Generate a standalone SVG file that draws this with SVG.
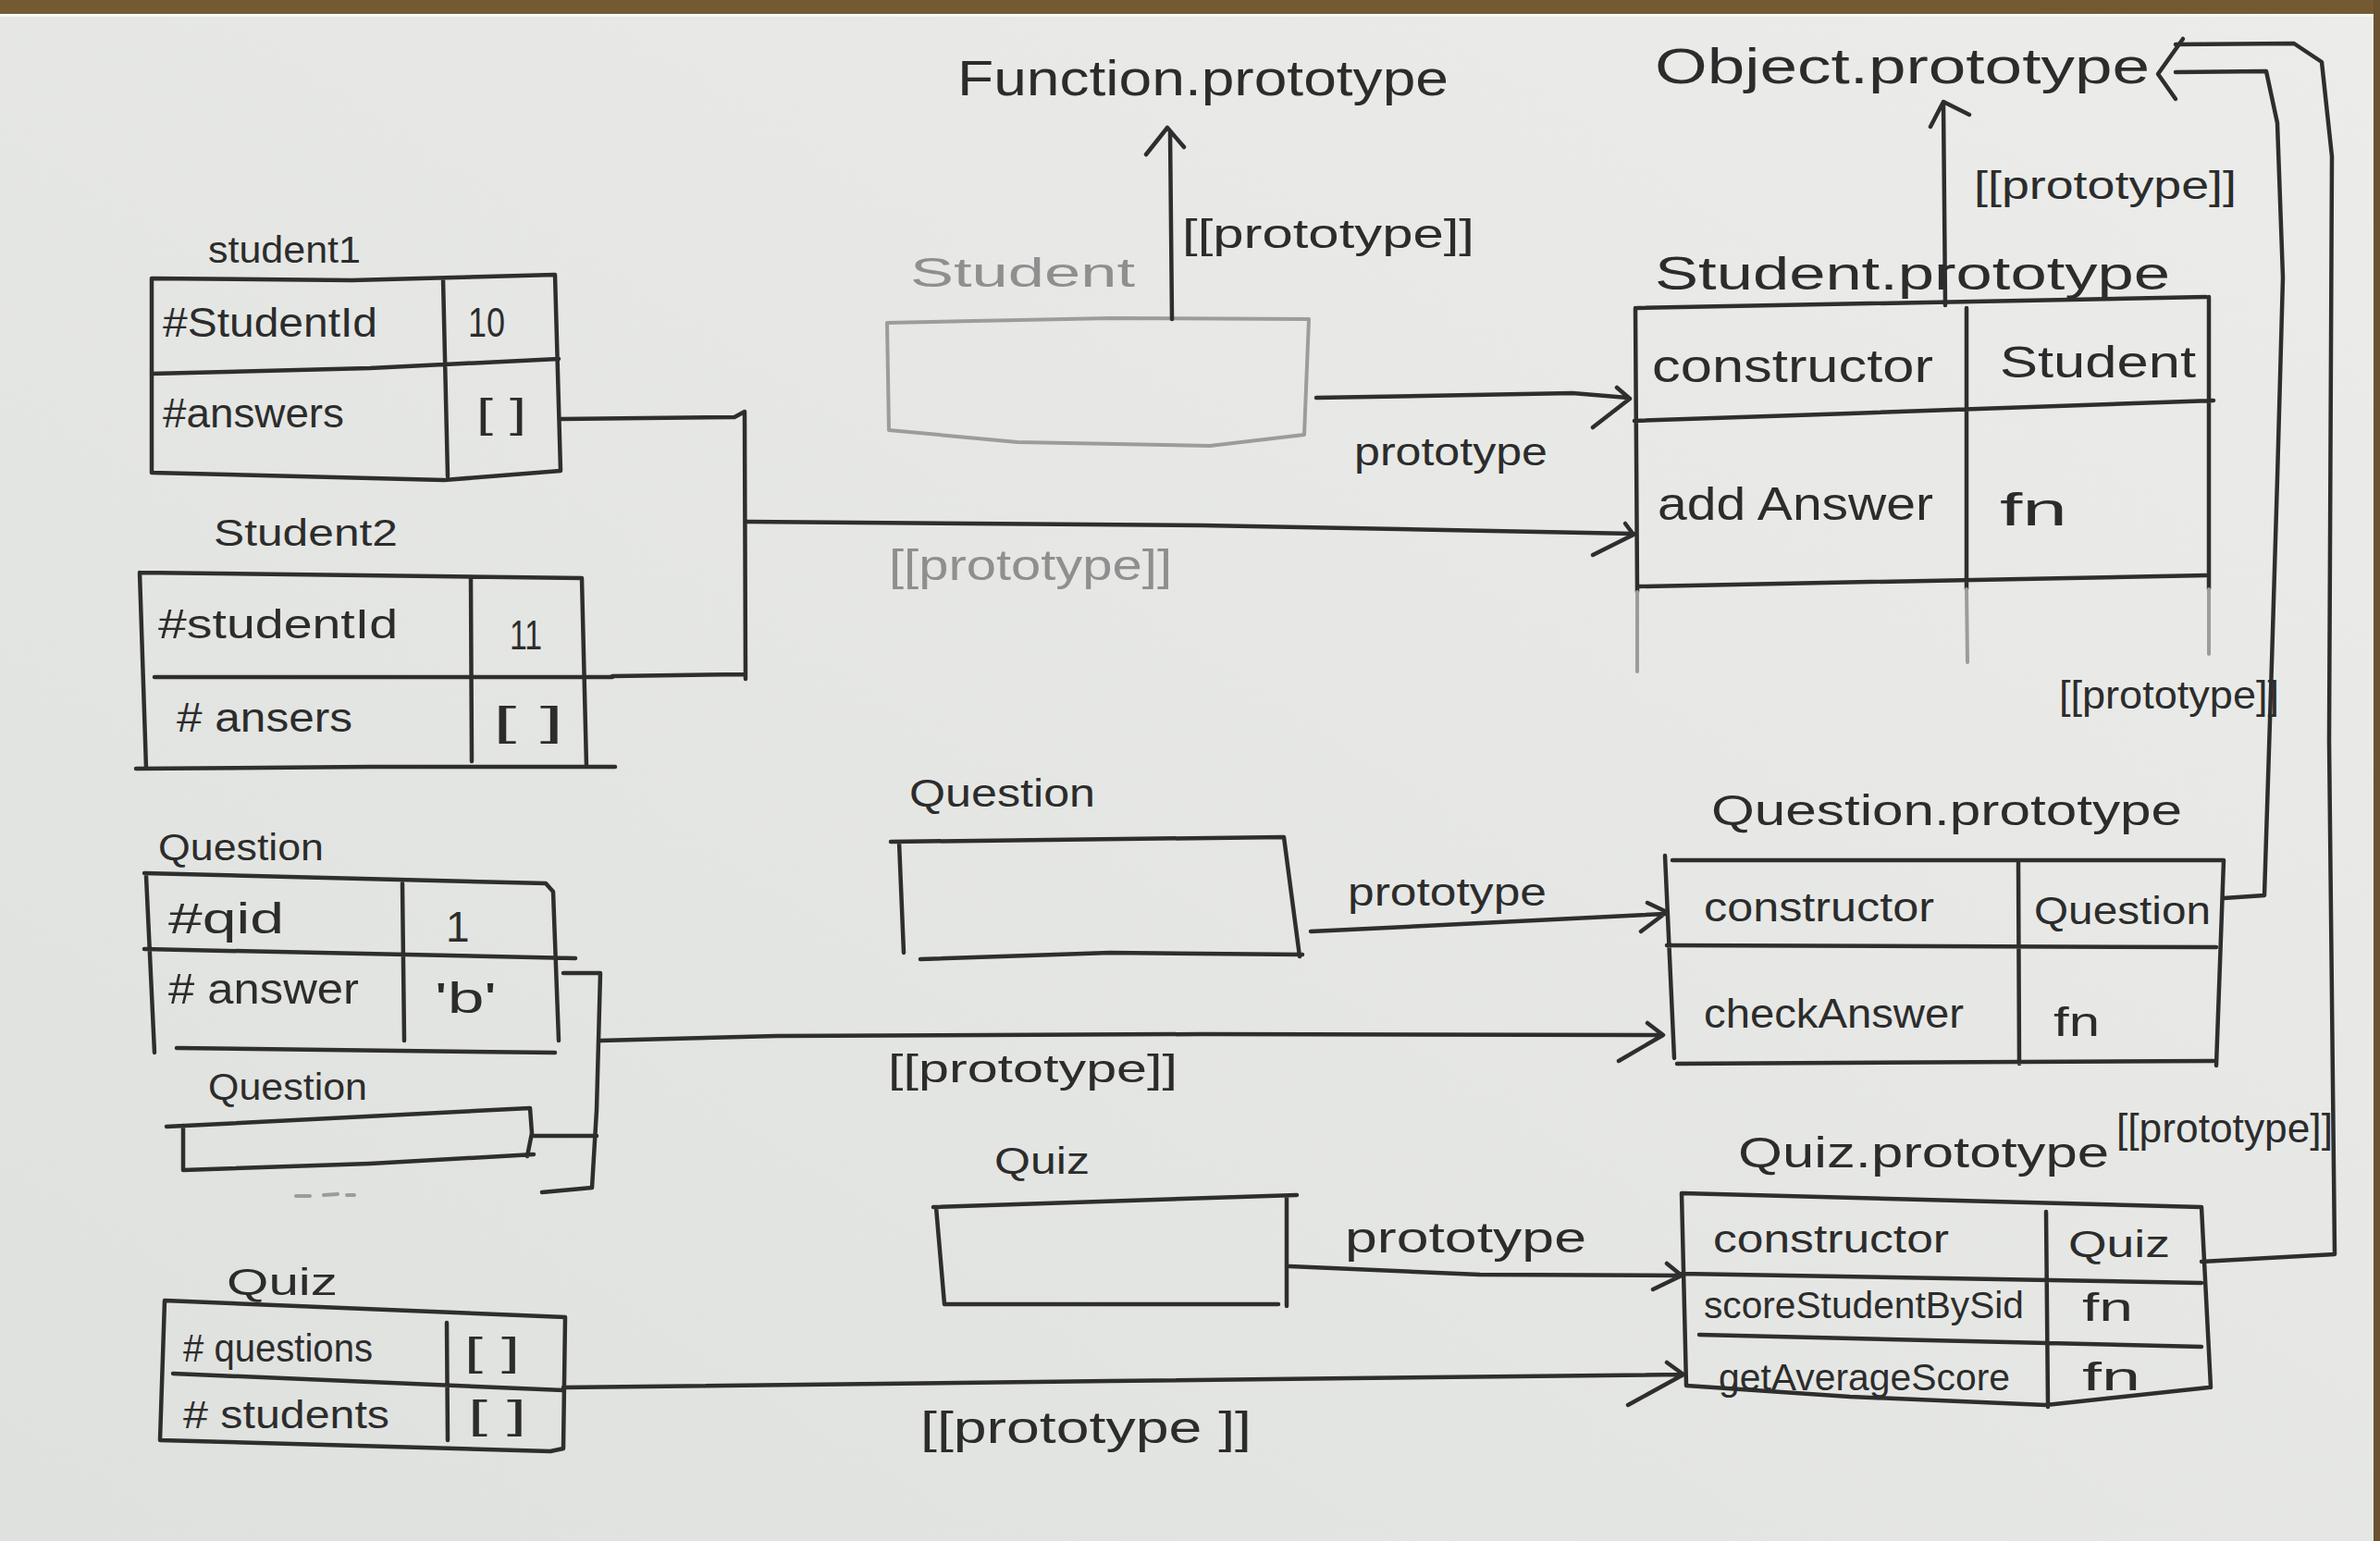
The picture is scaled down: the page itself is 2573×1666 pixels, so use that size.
<svg xmlns="http://www.w3.org/2000/svg" width="2573" height="1666" viewBox="0 0 2573 1666">
<defs>
<linearGradient id="paper" x1="1" y1="0" x2="0" y2="1">
<stop offset="0" stop-color="#ecedea"/>
<stop offset="1" stop-color="#dfe1de"/>
</linearGradient>
<style>
.t{font-family:"Liberation Sans",Arial,sans-serif;fill:#2c2c2c}
.f{fill:#8f8f8f}
.ln{fill:none;stroke:#2e2e2e;stroke-width:4.5;stroke-linecap:round;stroke-linejoin:round}
.fl{fill:none;stroke:#9c9c9c;stroke-width:4;stroke-linecap:round;stroke-linejoin:round}
.s40{font-size:40px}.s42{font-size:42px}.s44{font-size:44px}.s46{font-size:46px}.s48{font-size:48px}.s50{font-size:50px}.s54{font-size:54px}
</style>
</defs>
<rect x="0" y="0" width="2573" height="1666" fill="url(#paper)"/>
<rect x="0" y="0" width="2573" height="15" fill="#735a33"/>
<rect x="0" y="15" width="2566" height="3" fill="#f6f6f3"/>
<rect x="2566" y="0" width="7" height="1666" fill="#6b5230"/>

<g id="student1">
<text class="t s40" x="225" y="284" textLength="165" lengthAdjust="spacingAndGlyphs">student1</text>
<path class="ln" d="M164,301 L380,303 L600,297 L606,509 L480,519 L164,511 Z M164,404 L400,398 L604,388 M479,301 L484,515"/>
<text class="t s44" x="176" y="364" textLength="232" lengthAdjust="spacingAndGlyphs">#StudentId</text>
<text class="t s44" x="506" y="364" textLength="40" lengthAdjust="spacingAndGlyphs">10</text>
<text class="t s44" x="176" y="462" textLength="196" lengthAdjust="spacingAndGlyphs">#answers</text>
<text class="t s44" x="515" y="462" textLength="54" lengthAdjust="spacingAndGlyphs">[ ]</text>
</g>

<g id="student2">
<text class="t s40" x="231" y="590" textLength="199" lengthAdjust="spacingAndGlyphs">Student2</text>
<path class="ln" d="M151,619 L629,625 L634,829 M147,831 L400,829 L665,829 M151,619 L158,831 M167,732 L662,732 M509,625 L510,823"/>
<text class="t s44" x="171" y="690" textLength="259" lengthAdjust="spacingAndGlyphs">#studentId</text>
<text class="t s44" x="551" y="702" textLength="35" lengthAdjust="spacingAndGlyphs">11</text>
<text class="t s44" x="191" y="791" textLength="190" lengthAdjust="spacingAndGlyphs"># ansers</text>
<text class="t s44" x="533" y="795" textLength="76" lengthAdjust="spacingAndGlyphs">[ ]</text>
</g>

<g id="question1">
<text class="t s40" x="171" y="930" textLength="179" lengthAdjust="spacingAndGlyphs">Question</text>
<path class="ln" d="M156,944 L590,955 L598,964 L604,1125 M158,947 L167,1138 M191,1133 L600,1138 M156,1026 L622,1036 M435,955 L437,1125"/>
<text class="t s46" x="182" y="1009" textLength="125" lengthAdjust="spacingAndGlyphs">#qid</text>
<text class="t s46" x="482" y="1018">1</text>
<text class="t s46" x="182" y="1085" textLength="206" lengthAdjust="spacingAndGlyphs"># answer</text>
<text class="t s46" x="470" y="1095" textLength="67" lengthAdjust="spacingAndGlyphs">'b'</text>
</g>

<g id="question2">
<text class="t s40" x="225" y="1189" textLength="172" lengthAdjust="spacingAndGlyphs">Question</text>
<path class="ln" d="M180,1218 L573,1198 L575,1225 L570,1250 M198,1217 L198,1265 L400,1258 L577,1248"/>
<path class="fl" d="M320,1293 L335,1293 M350,1292 L365,1291 M375,1292 L383,1292"/>
</g>

<g id="quiz1">
<text class="t s40" x="245" y="1400" textLength="120" lengthAdjust="spacingAndGlyphs">Quiz</text>
<path class="ln" d="M178,1406 L611,1424 L609,1566 L595,1569 L173,1557 Z M187,1485 L609,1503 M483,1430 L484,1557"/>
<text class="t s42" x="198" y="1472" textLength="205" lengthAdjust="spacingAndGlyphs"># questions</text>
<text class="t s42" x="502" y="1476" textLength="60" lengthAdjust="spacingAndGlyphs">[ ]</text>
<text class="t s42" x="198" y="1544" textLength="223" lengthAdjust="spacingAndGlyphs"># students</text>
<text class="t s42" x="506" y="1544" textLength="63" lengthAdjust="spacingAndGlyphs">[ ]</text>
</g>

<g id="function-prototype">
<text class="t s54" x="1035" y="103" textLength="531" lengthAdjust="spacingAndGlyphs">Function.prototype</text>
</g>

<g id="student-fn">
<text class="t f s44" x="984" y="310" textLength="243" lengthAdjust="spacingAndGlyphs">Student</text>
<path class="fl" d="M959,349 L1200,344 L1415,345 L1410,470 L1308,482 L1100,478 L961,465 Z"/>
</g>

<g id="question-fn">
<text class="t s42" x="983" y="872" textLength="201" lengthAdjust="spacingAndGlyphs">Question</text>
<path class="ln" d="M963,910 L1388,905 L1405,1034 M977,1030 L972,910 M995,1037 L1200,1030 L1408,1032"/>
</g>

<g id="quiz-fn">
<text class="t s40" x="1075" y="1269" textLength="103" lengthAdjust="spacingAndGlyphs">Quiz</text>
<path class="ln" d="M1009,1305 L1402,1292 M1012,1305 L1021,1410 L1382,1410 M1391,1295 L1391,1412"/>
</g>

<g id="object-prototype">
<text class="t s54" x="1789" y="90" textLength="535" lengthAdjust="spacingAndGlyphs">Object.prototype</text>
</g>

<g id="student-prototype">
<text class="t s50" x="1789" y="313" textLength="557" lengthAdjust="spacingAndGlyphs">Student.prototype</text>
<path class="ln" d="M1770,333 L2385,321 M1768,333 L1770,640 M2388,321 L2388,637 M2126,333 L2126,637 M1767,455 L2000,447 L2393,433 M1772,634 L2385,622"/>
<path class="fl" d="M1770,640 L1770,726 M2388,637 L2388,707 M2126,637 L2127,716"/>
<text class="t s50" x="1786" y="413" textLength="304" lengthAdjust="spacingAndGlyphs">constructor</text>
<text class="t s48" x="2162" y="408" textLength="212" lengthAdjust="spacingAndGlyphs">Student</text>
<text class="t s50" x="1792" y="562" textLength="298" lengthAdjust="spacingAndGlyphs">add Answer</text>
<text class="t s50" x="2162" y="568" textLength="73" lengthAdjust="spacingAndGlyphs">fn</text>
</g>

<g id="question-prototype">
<text class="t s46" x="1850" y="892" textLength="509" lengthAdjust="spacingAndGlyphs">Question.prototype</text>
<path class="ln" d="M1808,930 L2404,930 M1800,925 L1810,1144 M2404,930 L2396,1152 M1813,1150 L2393,1147 M1802,1022 L2396,1024 M2182,933 L2183,1150"/>
<text class="t s44" x="1842" y="996" textLength="249" lengthAdjust="spacingAndGlyphs">constructor</text>
<text class="t s42" x="2199" y="999" textLength="191" lengthAdjust="spacingAndGlyphs">Question</text>
<text class="t s44" x="1842" y="1111" textLength="281" lengthAdjust="spacingAndGlyphs">checkAnswer</text>
<text class="t s44" x="2220" y="1120" textLength="50" lengthAdjust="spacingAndGlyphs">fn</text>
</g>

<g id="quiz-prototype">
<text class="t s46" x="1879" y="1262" textLength="401" lengthAdjust="spacingAndGlyphs">Quiz.prototype</text>
<path class="ln" d="M1818,1290 L2380,1305 M1818,1290 L1823,1498 M1823,1498 L2000,1510 L2212,1519 L2388,1500 M2380,1305 L2390,1500 M1818,1377 L2380,1387 M1837,1443 L2380,1456 M2212,1310 L2214,1521"/>
<text class="t s42" x="1852" y="1354" textLength="255" lengthAdjust="spacingAndGlyphs">constructor</text>
<text class="t s40" x="2236" y="1359" textLength="110" lengthAdjust="spacingAndGlyphs">Quiz</text>
<text class="t s40" x="1842" y="1425" textLength="346" lengthAdjust="spacingAndGlyphs">scoreStudentBySid</text>
<text class="t s42" x="2251" y="1428" textLength="55" lengthAdjust="spacingAndGlyphs">fn</text>
<text class="t s40" x="1858" y="1503" textLength="315" lengthAdjust="spacingAndGlyphs">getAverageScore</text>
<text class="t s42" x="2251" y="1503" textLength="63" lengthAdjust="spacingAndGlyphs">fn</text>
</g>

<g id="connectors">
<path class="ln" d="M606,453 L794,451 L805,445 L806,734 M662,731 L806,729 M808,564 L1300,568 L1766,577"/>
<path class="ln" d="M1757,566 L1766,578 L1722,600"/>
<text class="t f s46" x="961" y="627" textLength="306" lengthAdjust="spacingAndGlyphs">[[prototype]]</text>
<path class="ln" d="M1267,345 L1265,142 M1239,167 L1262,138 L1280,159"/>
<text class="t s44" x="1278" y="268" textLength="316" lengthAdjust="spacingAndGlyphs">[[prototype]]</text>
<path class="ln" d="M1423,430 L1700,425 L1760,430 M1748,419 L1762,431 L1722,462"/>
<text class="t s42" x="1464" y="503" textLength="209" lengthAdjust="spacingAndGlyphs">prototype</text>
<path class="ln" d="M2103,330 L2101,112 M2087,137 L2101,110 L2129,124"/>
<text class="t s42" x="2134" y="215" textLength="284" lengthAdjust="spacingAndGlyphs">[[prototype]]</text>
<path class="ln" d="M1417,1007 L1600,998 L1800,988 M1781,976 L1802,986 L1774,1007"/>
<text class="t s42" x="1457" y="979" textLength="215" lengthAdjust="spacingAndGlyphs">prototype</text>
<path class="ln" d="M609,1052 L649,1052 L645,1200 L640,1284 L586,1289 M575,1228 L645,1228 M649,1125 L840,1120 L1300,1118 L1797,1119 M1781,1106 L1798,1119 L1750,1147"/>
<text class="t s42" x="960" y="1170" textLength="313" lengthAdjust="spacingAndGlyphs">[[prototype]]</text>
<path class="ln" d="M1394,1369 L1600,1378 L1818,1379 M1802,1366 L1818,1379 L1787,1394"/>
<text class="t s46" x="1454" y="1354" textLength="261" lengthAdjust="spacingAndGlyphs">prototype</text>
<path class="ln" d="M609,1500 L1200,1493 L1818,1486 M1802,1473 L1820,1486 L1760,1519"/>
<text class="t s48" x="995" y="1560" textLength="358" lengthAdjust="spacingAndGlyphs">[[prototype ]]</text>
<path class="ln" d="M2404,971 L2448,968 L2456,716 L2462,517 L2468,300 L2462,133 L2450,77 L2352,78"/>
<text class="t s42" x="2226" y="766" textLength="238" lengthAdjust="spacingAndGlyphs">[[prototype]]</text>
<path class="ln" d="M2380,1364 L2524,1356 L2518,800 L2521,169 L2510,67 L2480,47 L2352,48"/>
<text class="t s44" x="2288" y="1235" textLength="234" lengthAdjust="spacingAndGlyphs">[[prototype]]</text>
<path class="ln" d="M2360,42 L2333,80 L2352,107"/>
</g>
</svg>
